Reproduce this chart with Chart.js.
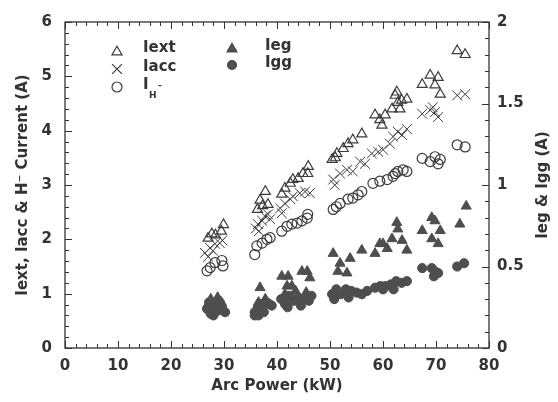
<!DOCTYPE html>
<html>
<head>
<meta charset="utf-8">
<script src="https://cdn.jsdelivr.net/npm/chart.js@4.4.1/dist/chart.umd.min.js"></script>
<style>
  html, body { margin: 0; padding: 0; background: #fff; }
  #wrap { width: 558px; height: 402px; position: relative; }
</style>
</head>
<body>
<div id="wrap"><canvas id="chart"></canvas></div>
<script>
// values, arc power in kW
const iextPower = [27.0, 27.7, 28.4, 29.5, 29.9, 36.3, 36.8, 37.3, 37.8, 38.3, 40.9, 41.5, 42.5, 43.0, 44.0, 44.9, 45.8, 45.9,
  50.4, 51.0, 51.3, 52.5, 53.4, 54.3, 56.0, 58.5, 59.4, 59.8, 60.4, 61.7, 62.3, 62.6, 62.8, 63.2, 63.5, 64.5,
  67.4, 68.9, 69.8, 70.4, 70.8, 74.0, 75.5];
const iext = [2.02, 2.10, 2.08, 2.15, 2.27, 2.55, 2.72, 2.62, 2.88, 2.64, 2.83, 2.94, 3.03, 3.10, 3.12, 3.21, 3.21, 3.34,
  3.47, 3.50, 3.58, 3.67, 3.76, 3.83, 3.94, 4.29, 4.20, 4.10, 4.29, 4.40, 4.65, 4.71, 4.52, 4.40, 4.56, 4.58,
  4.85, 5.02, 4.84, 4.98, 4.67, 5.47, 5.40];

const iaccPower = [26.4, 27.0, 27.4, 27.9, 28.3, 29.2, 29.7, 36.0, 36.4, 36.6, 37.2, 37.7, 38.3, 38.7,
  40.6, 40.9, 41.5, 42.5, 43.0, 44.3, 45.3, 46.2, 50.6, 50.9, 51.9, 53.2, 54.3, 55.7, 56.6,
  57.9, 59.1, 60.0, 61.3, 61.9, 62.8, 63.6, 64.5, 67.4, 68.9, 69.4, 69.8, 70.4, 74.0, 75.5];
const iacc = [1.75, 1.68, 1.84, 1.79, 1.92, 1.93, 1.98, 2.20, 2.28, 2.15, 2.34, 2.43, 2.46, 2.37,
  2.57, 2.48, 2.66, 2.74, 2.79, 2.85, 2.88, 2.85, 3.10, 3.00, 3.21, 3.28, 3.25, 3.43, 3.39,
  3.58, 3.61, 3.65, 3.76, 3.89, 3.98, 3.92, 4.03, 4.31, 4.38, 4.43, 4.34, 4.25, 4.65, 4.67];

const ihPower = [26.8, 27.4, 28.3, 29.6, 29.8, 35.8, 36.2, 37.2, 38.1, 38.7, 40.9, 41.9, 42.8, 43.8, 44.7, 45.7, 45.8,
  50.6, 51.2, 51.9, 53.4, 54.3, 55.3, 56.0, 58.1, 59.4, 60.8, 61.9, 62.3, 62.8, 63.8, 64.5,
  67.4, 68.9, 69.8, 70.4, 70.8, 74.0, 75.5];
const ih = [1.42, 1.48, 1.57, 1.61, 1.51, 1.72, 1.88, 1.93, 2.00, 2.03, 2.15, 2.24, 2.28, 2.30, 2.34, 2.39, 2.46,
  2.55, 2.60, 2.66, 2.74, 2.76, 2.82, 2.88, 3.03, 3.07, 3.10, 3.16, 3.21, 3.25, 3.28, 3.25,
  3.49, 3.43, 3.52, 3.39, 3.47, 3.74, 3.70];

const iegPower = [27.0, 27.5, 28.8, 29.5, 36.5, 36.8, 37.8, 38.5, 40.9, 41.5, 41.9, 42.1, 42.8, 43.5, 44.7, 45.5, 45.7, 46.2,
  50.6, 51.5, 51.9, 53.2, 53.8, 56.0, 58.5, 59.4, 60.0, 60.8, 61.7, 62.6, 62.8, 63.6, 64.5,
  67.4, 69.2, 69.2, 69.8, 70.4, 70.8, 74.5, 75.7];
const ieg = [0.27, 0.30, 0.31, 0.28, 0.28, 0.37, 0.30, 0.27, 0.44, 0.33, 0.38, 0.44, 0.38, 0.35, 0.47, 0.34, 0.47, 0.43,
  0.58, 0.47, 0.52, 0.46, 0.55, 0.60, 0.58, 0.64, 0.64, 0.61, 0.67, 0.77, 0.73, 0.66, 0.60,
  0.72, 0.80, 0.67, 0.78, 0.64, 0.72, 0.76, 0.87];

const iggPower = [26.8, 27.2, 27.5, 28.0, 28.2, 28.9, 29.2, 29.6, 30.2, 35.8, 35.8, 36.4, 36.5, 37.0, 37.5, 37.8, 38.5, 39.0,
  40.8, 41.5, 42.0, 42.3, 43.2, 44.0, 44.5, 45.0, 46.0, 46.5, 50.4, 50.8, 51.2, 52.0, 53.0, 53.5, 54.0, 55.0, 56.0, 57.0,
  58.5, 59.5, 60.0, 60.5, 61.5, 62.0, 62.5, 63.5, 64.5, 67.4, 69.2, 69.6, 69.8, 70.4, 74.0, 75.3];
const igg = [0.24, 0.28, 0.21, 0.20, 0.26, 0.23, 0.28, 0.25, 0.22, 0.22, 0.20, 0.25, 0.20, 0.27, 0.22, 0.28, 0.27, 0.26,
  0.30, 0.27, 0.25, 0.32, 0.29, 0.31, 0.26, 0.30, 0.29, 0.32, 0.33, 0.30, 0.36, 0.33, 0.36, 0.31, 0.35, 0.34, 0.33, 0.35,
  0.37, 0.38, 0.36, 0.38, 0.39, 0.36, 0.41, 0.40, 0.41, 0.49, 0.49, 0.44, 0.47, 0.46, 0.50, 0.52];

const xTicks = [0, 10, 20, 30, 40, 50, 60, 70, 80];

const INK = '#333';
const MARK = '#3c3c3c';
const FILL = '#4e4e4e';
const FONT = '"DejaVu Sans", sans-serif';

const pts = (xs, ys) => xs.map((x, i) => ({ x: x, y: ys[i] }));

// frame + inward ticks like the original plot
const framePlugin = {
  id: 'frame',
  afterDraw(chart) {
    const { ctx, chartArea: a, scales } = chart;
    const x = scales.x, y = scales.y, y2 = scales.y2;
    ctx.save();
    ctx.strokeStyle = INK;
    ctx.lineWidth = 1.3;
    ctx.strokeRect(a.left, a.top, a.right - a.left, a.bottom - a.top);
    ctx.lineWidth = 1;
    ctx.beginPath();
    for (let v = 0; v <= 80; v += 2) {
      const px = Math.round(x.getPixelForValue(v)) + 0.5;
      const len = v % 10 === 0 ? 7 : 4;
      ctx.moveTo(px, a.bottom); ctx.lineTo(px, a.bottom - len);
      ctx.moveTo(px, a.top); ctx.lineTo(px, a.top + len);
    }
    for (let i = 0; i <= 30; i++) {
      const py = Math.round(y.getPixelForValue(i * 0.2)) + 0.5;
      const len = i % 5 === 0 ? 7 : 4;
      ctx.moveTo(a.left, py); ctx.lineTo(a.left + len, py);
    }
    for (let i = 0; i <= 20; i++) {
      const py = Math.round(y2.getPixelForValue(i * 0.1)) + 0.5;
      const len = i % 5 === 0 ? 7 : 4;
      ctx.moveTo(a.right, py); ctx.lineTo(a.right - len, py);
    }
    ctx.stroke();

    // legend inside the plot
    const draw = Chart.helpers.drawPoint;
    const sym = (style, r, fill, px, py) => {
      ctx.strokeStyle = fill ? FILL : MARK;
      ctx.fillStyle = fill ? FILL : 'rgba(0,0,0,0)';
      ctx.lineWidth = 1.2;
      draw(ctx, { pointStyle: style, radius: r, borderWidth: 1.2 }, px, py);
    };
    sym('triangle', 5.8, false, 117, 52);
    sym('crossRot', 7, false, 117, 69);
    sym('circle', 5, false, 117, 87);
    sym('triangle', 5.8, true, 232, 49);
    sym('circle', 4.5, true, 232, 65);

    ctx.fillStyle = INK;
    ctx.textBaseline = 'middle';
    ctx.font = 'bold 15px ' + FONT;
    ctx.fillText('Iext', 143, 48);
    ctx.fillText('Iacc', 143, 67);
    ctx.fillText('I', 143, 85);
    ctx.fillText('Ieg', 265, 46);
    ctx.fillText('Igg', 265, 63);
    ctx.font = 'bold 9px ' + FONT;
    ctx.fillText('H', 149, 96);
    ctx.fillText('-', 158, 86);

    // right axis title reads bottom-to-top in the original
    ctx.font = 'bold 15px ' + FONT;
    ctx.textAlign = 'center';
    ctx.translate(543, (a.top + a.bottom) / 2);
    ctx.rotate(-Math.PI / 2);
    ctx.fillText('Ieg & Igg (A)', 0, 0);
    ctx.restore();
  }
};

new Chart(document.getElementById('chart'), {
  type: 'scatter',
  data: {
    datasets: [
      { label: 'Iext', data: pts(iextPower, iext), yAxisID: 'y', pointStyle: 'triangle', pointRadius: 5.8,
        borderColor: MARK, backgroundColor: 'rgba(0,0,0,0)', borderWidth: 1.2 },
      { label: 'Iacc', data: pts(iaccPower, iacc), yAxisID: 'y', pointStyle: 'crossRot', pointRadius: 7,
        borderColor: MARK, backgroundColor: 'rgba(0,0,0,0)', borderWidth: 1 },
      { label: 'IH-', data: pts(ihPower, ih), yAxisID: 'y', pointStyle: 'circle', pointRadius: 5,
        borderColor: MARK, backgroundColor: 'rgba(0,0,0,0)', borderWidth: 1.2 },
      { label: 'Ieg', data: pts(iegPower, ieg), yAxisID: 'y2', pointStyle: 'triangle', pointRadius: 5.8,
        borderColor: FILL, backgroundColor: FILL, borderWidth: 1 },
      { label: 'Igg', data: pts(iggPower, igg), yAxisID: 'y2', pointStyle: 'circle', pointRadius: 4.6,
        borderColor: FILL, backgroundColor: FILL, borderWidth: 1 }
    ]
  },
  options: {
    responsive: true,
    maintainAspectRatio: false,
    animation: false,
    devicePixelRatio: 1,
    layout: { padding: { top: 19, left: 0, right: 0, bottom: 0 } },
    plugins: { legend: { display: false }, tooltip: { enabled: false } },
    scales: {
      x: {
        type: 'linear', min: 0, max: 80,
        afterFit: s => { s.height = 54; },
        afterBuildTicks: s => { s.ticks = xTicks.map(v => ({ value: v })); },
        grid: { display: false, drawTicks: false },
        border: { display: false },
        ticks: { padding: 9, color: INK, font: { family: FONT, size: 15, weight: 'bold' } },
        title: { display: true, text: 'Arc Power (kW)', color: INK, padding: { top: 0, bottom: 7 },
          font: { family: FONT, size: 15, weight: 'bold' } }
      },
      y: {
        type: 'linear', position: 'left', min: 0, max: 6,
        afterFit: s => { s.width = 65; },
        grid: { display: false, drawTicks: false },
        border: { display: false },
        ticks: { stepSize: 1, padding: 13, color: INK, font: { family: FONT, size: 15, weight: 'bold' } },
        title: { display: true, text: 'Iext, Iacc & H\u207B Current (A)', color: INK, padding: { top: 14, bottom: 0 },
          font: { family: FONT, size: 15, weight: 'bold' } }
      },
      y2: {
        type: 'linear', position: 'right', min: 0, max: 2,
        afterFit: s => { s.width = 69; },
        grid: { display: false, drawTicks: false },
        border: { display: false },
        ticks: { stepSize: 0.5, padding: 8, color: INK, callback: v => String(v),
          font: { family: FONT, size: 15, weight: 'bold' } }
      }
    }
  },
  plugins: [framePlugin]
});
</script>
</body>
</html>
